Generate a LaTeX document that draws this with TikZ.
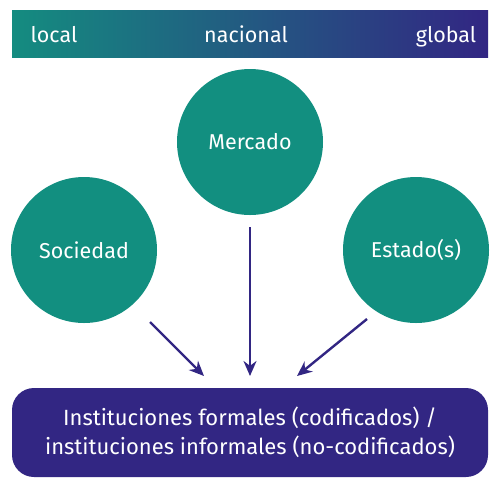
\documentclass[tikz,border=0pt]{standalone}
\usepackage{fontspec}
\setmainfont{Fira Sans}
\usetikzlibrary{arrows.meta}
\definecolor{tealc}{RGB}{18,143,128}
\definecolor{purp}{RGB}{50,38,131}
\definecolor{barl}{RGB}{20,140,128}
\tikzset{
  circ/.style={circle, fill=tealc, minimum size=146pt, inner sep=0pt, text=white, font=\fontsize{21.5}{24}\selectfont},
  arr/.style={draw=purp, line width=2.4pt, -{Stealth[length=15pt,width=13pt]}},
  bartext/.style={text=white, font=\fontsize{21.5}{24}\selectfont, anchor=base},
}
\begin{document}
\begin{tikzpicture}[x=1pt,y=-1pt]
\useasboundingbox (0,0) rectangle (500,488);
\shade[left color=barl, right color=purp, shading angle=90] (12,10) rectangle (488,57);
\node[bartext] (loc) at (54,42) {local};
\node[bartext] (nac) at (246,42) {nacional};
\node[bartext] (glo) at (446,42) {global};
\node[circ] (merc) at (250,142) {Mercado};
\node[circ] (soc) at (84,250) {Sociedad};
\node[circ] (est) at (416,250) {Estado(s)};
\node[fill=purp, rounded corners=22pt, minimum width=476pt, minimum height=89pt, text=white, align=center, font=\fontsize{22}{29}\selectfont] (inst) at (250,432.5) {Instituciones formales (codificados) /\\instituciones informales (no-codificados)};
\coordinate (a1) at (150,322);
\coordinate (a1e) at (204,376);
\coordinate (a2) at (250,227);
\coordinate (a2e) at (250,376);
\coordinate (a3) at (367,319);
\coordinate (a3e) at (297,376);
\draw[arr] (a1) -- (a1e);
\draw[arr] (a2) -- (a2e);
\draw[arr] (a3) -- (a3e);
\end{tikzpicture}
\end{document}
